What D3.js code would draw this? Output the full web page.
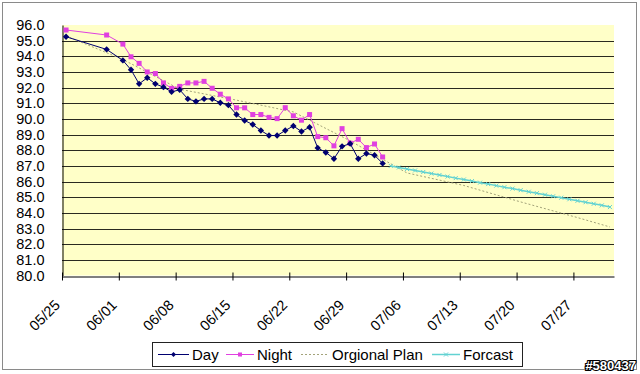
<!DOCTYPE html>
<html>
<head>
<meta charset="utf-8">
<script src="https://cdn.jsdelivr.net/npm/d3@7"></script>
<style>
  body { margin: 0; background: #fff; }
  svg { display: block; font-family: "Liberation Sans", Arial, sans-serif; }
</style>
</head>
<body>
<svg width="640" height="374"></svg>
<script>
// measurements (MM/DD), day readings and night readings
const obsDates = ["05/25", "05/30", "06/01", "06/02", "06/03", "06/04", "06/05", "06/06", "06/07",
  "06/08", "06/09", "06/10", "06/11", "06/12", "06/13", "06/14", "06/15", "06/16", "06/17",
  "06/18", "06/19", "06/20", "06/21", "06/22", "06/23", "06/24", "06/25", "06/26", "06/27",
  "06/28", "06/29", "06/30", "07/01", "07/02", "07/03"];
const dayValues = [95.25, 94.44, 93.74, 93.14, 92.24, 92.63, 92.24, 92.03, 91.73,
  91.86, 91.28, 91.12, 91.28, 91.28, 91.03, 90.88, 90.28, 89.9, 89.64,
  89.26, 88.94, 88.94, 89.26, 89.55, 89.2, 89.47, 88.15, 87.86, 87.46,
  88.25, 88.42, 87.46, 87.79, 87.68, 87.16];
const nightValues = [95.68, 95.36, 94.78, 93.97, 93.55, 93.0, 92.9, 92.3, 91.95,
  92.08, 92.3, 92.3, 92.4, 91.96, 91.58, 91.28, 90.71, 90.71, 90.28,
  90.28, 90.1, 90.02, 90.72, 90.2, 89.92, 90.28, 88.87, 88.8, 88.28,
  89.38, 88.45, 88.7, 88.17, 88.4, 87.57];

// original plan (weekly targets)
const planDates = ["05/25", "06/01", "06/08", "06/15", "06/22", "06/29", "07/06", "07/13", "07/20", "07/27", "07/31"];
const planValues = [95.3, 93.8, 91.9, 91.2, 90.45, 88.6, 86.55, 85.75, 84.7, 83.7, 83.1];

// forecast
const forecastDates = ["07/04", "07/05", "07/06", "07/07", "07/08", "07/09", "07/10", "07/11",
  "07/12", "07/13", "07/14", "07/15", "07/16", "07/17", "07/18", "07/19", "07/20", "07/21",
  "07/22", "07/23", "07/24", "07/25", "07/26", "07/27", "07/28", "07/29", "07/30", "07/31"];
const forecastValues = [87.0, 86.9, 86.8, 86.71, 86.61, 86.51, 86.42, 86.32,
  86.22, 86.13, 86.03, 85.93, 85.84, 85.74, 85.64, 85.55, 85.45, 85.35,
  85.26, 85.16, 85.06, 84.97, 84.87, 84.77, 84.68, 84.58, 84.48, 84.37];

const tickLabels = ["05/25", "06/01", "06/08", "06/15", "06/22", "06/29", "07/06", "07/13", "07/20", "07/27"];
const yTicks = [80, 81, 82, 83, 84, 85, 86, 87, 88, 89, 90, 91, 92, 93, 94, 95, 96];

const parse = s => d3.timeParse("%m/%d/%Y")(s + "/2009");
const mid = s => d3.timeHour.offset(parse(s), 12);

const svg = d3.select("svg");

const x = d3.scaleTime()
  .domain([parse("05/25"), parse("08/01")])
  .range([62, 614]);
const y = d3.scaleLinear()
  .domain([80, 96])
  .range([275.5, 25]);

// outer frame
svg.append("rect")
  .attr("x", 2.5).attr("y", 2.5)
  .attr("width", 634).attr("height", 367)
  .attr("fill", "#fff")
  .attr("stroke", "#8a8a8a");

// plot area
svg.append("rect")
  .attr("x", x.range()[0]).attr("y", y(96))
  .attr("width", x.range()[1] - x.range()[0])
  .attr("height", y(80) - y(96))
  .attr("fill", "#ffffc8");

// gridlines
svg.append("g")
  .selectAll("line")
  .data(yTicks.filter(v => v > 80 && v < 96))
  .join("line")
  .attr("x1", x.range()[0]).attr("x2", x.range()[1])
  .attr("y1", d => Math.round(y(d)) + 0.5)
  .attr("y2", d => Math.round(y(d)) + 0.5)
  .attr("stroke", "#2a2a20")
  .attr("stroke-width", 1);

// y axis
const yAxis = svg.append("g")
  .attr("transform", `translate(${x.range()[0] + 0.5},0)`)
  .call(d3.axisLeft(y).tickValues(yTicks).tickFormat(d3.format(".1f")).tickSize(0).tickPadding(18));
yAxis.select(".domain").attr("stroke", "#000");
yAxis.selectAll("text")
  .attr("font-size", "14.5px")
  .attr("font-family", "Liberation Sans, Arial, sans-serif")
  .attr("fill", "#000");

// x axis
const xAxis = svg.append("g")
  .attr("transform", `translate(0,${Math.round(y(80)) + 0.5})`)
  .call(d3.axisBottom(x).tickValues(tickLabels.map(parse)).tickSize(4).tickSizeOuter(0).tickFormat(""));
xAxis.select(".domain").attr("stroke", "#000");
xAxis.selectAll(".tick line").attr("stroke", "#000").attr("y1", -4);

svg.append("g")
  .selectAll("text")
  .data(tickLabels)
  .join("text")
  .attr("transform", d => `translate(${x(parse(d)) - 1},306) rotate(-45)`)
  .attr("text-anchor", "end")
  .attr("font-size", "14.5px")
  .attr("fill", "#000")
  .text(d => d);

const dayColor = "#000070";
const nightColor = "#e040e0";
const planColor = "#a3a37a";
const foreColor = "#62d2d2";

const line = d3.line().x(d => x(mid(d[0]))).y(d => y(d[1]));

// original plan
svg.append("path")
  .datum(d3.zip(planDates, planValues))
  .attr("d", line)
  .attr("fill", "none")
  .attr("stroke", planColor)
  .attr("stroke-width", 1)
  .attr("stroke-dasharray", "2,2");

// forecast
const foreData = d3.zip(forecastDates, forecastValues);
svg.append("path")
  .datum(foreData)
  .attr("d", line)
  .attr("fill", "none")
  .attr("stroke", foreColor)
  .attr("stroke-width", 1.5);
svg.append("g")
  .selectAll("path")
  .data(foreData)
  .join("path")
  .attr("transform", d => `translate(${x(mid(d[0]))},${y(d[1])})`)
  .attr("d", "M-2,-2L2,2M-2,2L2,-2")
  .attr("stroke", foreColor)
  .attr("stroke-width", 1);

// night
const nightData = d3.zip(obsDates, nightValues);
svg.append("path")
  .datum(nightData)
  .attr("d", line)
  .attr("fill", "none")
  .attr("stroke", nightColor)
  .attr("stroke-width", 1);
svg.append("g")
  .selectAll("rect")
  .data(nightData)
  .join("rect")
  .attr("x", d => x(mid(d[0])) - 2.5)
  .attr("y", d => y(d[1]) - 2.5)
  .attr("width", 5).attr("height", 5)
  .attr("fill", nightColor);

// day
const dayData = d3.zip(obsDates, dayValues);
svg.append("path")
  .datum(dayData)
  .attr("d", line)
  .attr("fill", "none")
  .attr("stroke", dayColor)
  .attr("stroke-width", 1);
svg.append("g")
  .selectAll("path")
  .data(dayData)
  .join("path")
  .attr("transform", d => `translate(${x(mid(d[0]))},${y(d[1])})`)
  .attr("d", "M0,-3.2L3.2,0L0,3.2L-3.2,0Z")
  .attr("fill", dayColor);

// legend
const legend = svg.append("g");
legend.append("rect")
  .attr("x", 152.5).attr("y", 342.5)
  .attr("width", 370).attr("height", 24)
  .attr("fill", "#fff")
  .attr("stroke", "#222");

const items = [
  { name: "Day", x0: 158, x1: 189, color: dayColor, mark: "diamond" },
  { name: "Night", x0: 226, x1: 254, color: nightColor, mark: "square" },
  { name: "Orgional Plan", x0: 301, x1: 329, color: planColor, mark: "none" },
  { name: "Forcast", x0: 432, x1: 460, color: foreColor, mark: "x" }
];
items.forEach(it => {
  const g = legend.append("g");
  g.append("line")
    .attr("x1", it.x0).attr("x2", it.x1)
    .attr("y1", 354.5).attr("y2", 354.5)
    .attr("stroke", it.color)
    .attr("stroke-width", it.mark === "x" ? 1.5 : 1)
    .attr("stroke-dasharray", it.mark === "none" ? "2,2" : null);
  const cx = (it.x0 + it.x1) / 2;
  if (it.mark === "diamond") {
    g.append("path").attr("transform", `translate(${cx},354.5)`)
      .attr("d", "M0,-2.5L2.5,0L0,2.5L-2.5,0Z").attr("fill", it.color);
  } else if (it.mark === "square") {
    g.append("rect").attr("x", cx - 2).attr("y", 352.5).attr("width", 4).attr("height", 4).attr("fill", it.color);
  } else if (it.mark === "x") {
    g.append("path").attr("transform", `translate(${cx},354.5)`)
      .attr("d", "M-2,-2L2,2M-2,2L2,-2").attr("stroke", it.color);
  }
  g.append("text")
    .attr("x", it.x1 + 3)
    .attr("y", 360)
    .attr("font-size", "15px")
    .attr("fill", "#000")
    .text(it.name);
});

// watermark
svg.append("text")
  .attr("x", 636).attr("y", 370)
  .attr("text-anchor", "end")
  .attr("font-size", "13px")
  .attr("font-weight", "bold")
  .attr("fill", "#fff")
  .attr("stroke", "#000")
  .attr("stroke-width", 2.2)
  .attr("paint-order", "stroke")
  .text("#580437");
</script>
</body>
</html>
